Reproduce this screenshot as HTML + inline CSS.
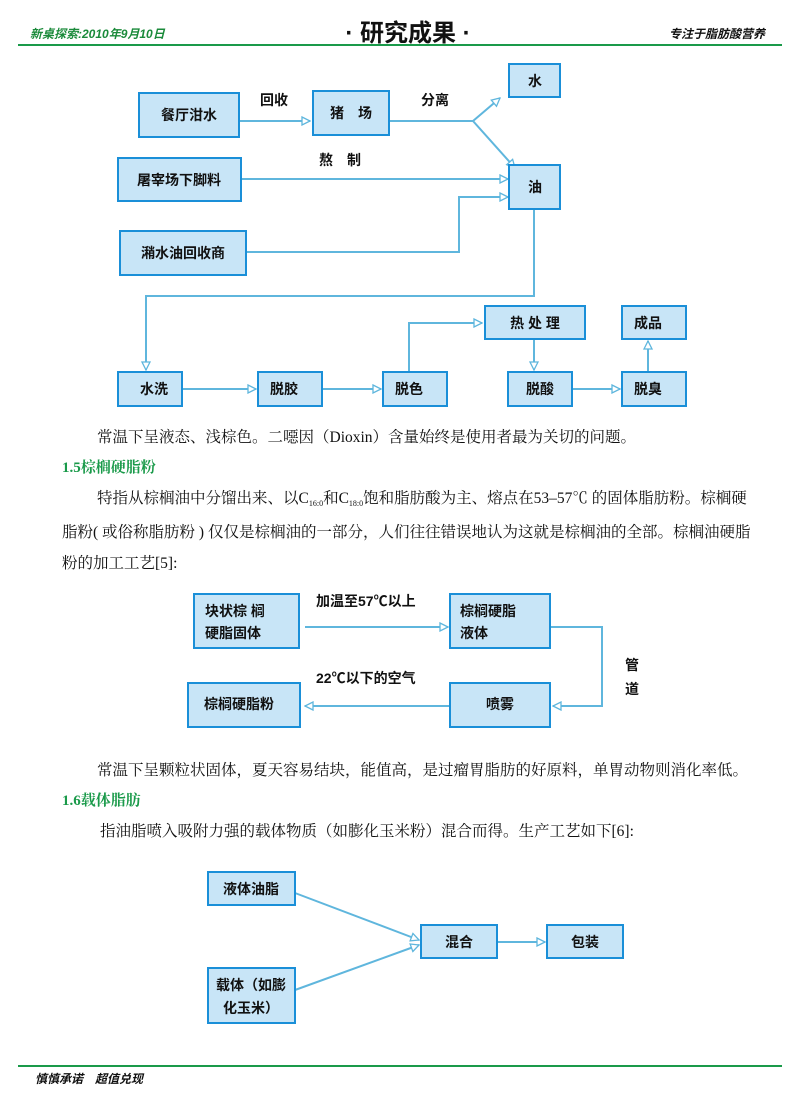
<!DOCTYPE html>
<html><head><meta charset="utf-8"><style>
body{margin:0;background:#fff;}
svg{display:block;}
text{font-family:"Liberation Sans","Noto Sans CJK SC",sans-serif;}
.b{fill:#c8e5f7;stroke:#1a8fd8;stroke-width:2;}
.t{font-size:14px;font-weight:bold;fill:#111;}
.l{stroke:#5fb6dd;stroke-width:2;fill:none;}
.p{font-family:"Liberation Serif","Noto Serif CJK SC",serif;font-size:15.5px;fill:#111;}
.g{font-family:"Liberation Serif","Noto Serif CJK SC",serif;font-size:15px;fill:#1a9a4a;font-weight:bold;}
</style></head><body>
<svg width="800" height="1093" viewBox="0 0 800 1093">
<defs><marker id="a" markerWidth="10" markerHeight="10" refX="9" refY="5" orient="auto" markerUnits="userSpaceOnUse"><path d="M1,1 L9,5 L1,9 Z" fill="#fff" stroke="#5fb6dd" stroke-width="1.3"/></marker></defs>
<text x="30" y="38" style="font-size:12px;font-weight:bold;font-style:italic;fill:#1a8a3a">新桌探索:2010年9月10日</text>
<text x="408" y="41" text-anchor="middle" style="font-size:24px;font-weight:bold;fill:#111">· 研究成果 ·</text>
<text x="765" y="38" text-anchor="end" style="font-size:12px;font-weight:bold;font-style:italic;fill:#111">专注于脂肪酸营养</text>
<line x1="18" y1="45" x2="782" y2="45" stroke="#1a9a4a" stroke-width="2"/>
<path class="l" d="M236,121 H310" marker-end="url(#a)"/>
<path class="l" d="M386,121 H473 L500,98" marker-end="url(#a)"/>
<path class="l" d="M473,121 L515,168" marker-end="url(#a)"/>
<path class="l" d="M241,179 H508" marker-end="url(#a)"/>
<path class="l" d="M246,252 H459 V197 H508" marker-end="url(#a)"/>
<path class="l" d="M534,209 V296 H146 V370" marker-end="url(#a)"/>
<path class="l" d="M182,389 H256" marker-end="url(#a)"/>
<path class="l" d="M322,389 H381" marker-end="url(#a)"/>
<path class="l" d="M409,372 V323 H482" marker-end="url(#a)"/>
<path class="l" d="M534,339 V370" marker-end="url(#a)"/>
<path class="l" d="M572,389 H620" marker-end="url(#a)"/>
<path class="l" d="M648,372 V341" marker-end="url(#a)"/>
<rect class="b" x="139" y="93" width="100" height="44"/><text class="t" x="189" y="120" text-anchor="middle">餐厅泔水</text>
<rect class="b" x="313" y="91" width="76" height="44"/><text class="t" x="351" y="118" text-anchor="middle">猪　场</text>
<rect class="b" x="509" y="64" width="51" height="33"/><text class="t" x="535" y="86" text-anchor="middle">水</text>
<rect class="b" x="118" y="158" width="123" height="43"/><text class="t" x="179" y="185" text-anchor="middle">屠宰场下脚料</text>
<rect class="b" x="509" y="165" width="51" height="44"/><text class="t" x="535" y="192" text-anchor="middle">油</text>
<rect class="b" x="120" y="231" width="126" height="44"/><text class="t" x="183" y="258" text-anchor="middle">潲水油回收商</text>
<text class="t" x="274" y="105" text-anchor="middle">回收</text>
<text class="t" x="435" y="105" text-anchor="middle">分离</text>
<text class="t" x="340" y="165" text-anchor="middle">熬　制</text>
<rect class="b" x="118" y="372" width="64" height="34"/><text class="t" x="140" y="394">水洗</text>
<rect class="b" x="258" y="372" width="64" height="34"/><text class="t" x="270" y="394">脱胶</text>
<rect class="b" x="383" y="372" width="64" height="34"/><text class="t" x="395" y="394">脱色</text>
<rect class="b" x="508" y="372" width="64" height="34"/><text class="t" x="540" y="394" text-anchor="middle">脱酸</text>
<rect class="b" x="622" y="372" width="64" height="34"/><text class="t" x="634" y="394">脱臭</text>
<rect class="b" x="485" y="306" width="100" height="33"/><text class="t" x="535" y="328" text-anchor="middle">热 处 理</text>
<rect class="b" x="622" y="306" width="64" height="33"/><text class="t" x="634" y="328">成品</text>
<text class="p" x="97" y="442">常温下呈液态、浅棕色。二噁因（Dioxin）含量始终是使用者最为关切的问题。</text>
<text class="g" x="62" y="472">1.5棕榈硬脂粉</text>
<text class="p" x="97" y="503">特指从棕榈油中分馏出来、以C<tspan font-size="8" dy="3">16:0</tspan><tspan dy="-3">和C</tspan><tspan font-size="8" dy="3">18:0</tspan><tspan dy="-3">饱和脂肪酸为主、熔点在53–57℃ 的固体脂肪粉。棕榈硬</tspan></text>
<text class="p" x="62" y="537">脂粉( 或俗称脂肪粉 ) 仅仅是棕榈油的一部分，人们往往错误地认为这就是棕榈油的全部。棕榈油硬脂</text>
<text class="p" x="62" y="568">粉的加工工艺[5]:</text>
<path class="l" d="M305,627 H448" marker-end="url(#a)"/>
<path class="l" d="M550,627 H602 V706 H553" marker-end="url(#a)"/>
<path class="l" d="M450,706 H305" marker-end="url(#a)"/>
<rect class="b" x="194" y="594" width="105" height="54"/><text class="t" x="205" y="616">块状棕 榈</text><text class="t" x="205" y="638">硬脂固体</text>
<rect class="b" x="450" y="594" width="100" height="54"/><text class="t" x="460" y="616">棕榈硬脂</text><text class="t" x="460" y="638">液体</text>
<rect class="b" x="450" y="683" width="100" height="44"/><text class="t" x="500" y="709" text-anchor="middle">喷雾</text>
<rect class="b" x="188" y="683" width="112" height="44"/><text class="t" x="204" y="709">棕榈硬脂粉</text>
<text class="t" x="316" y="606">加温至57℃以上</text>
<text class="t" x="316" y="683">22℃以下的空气</text>
<text class="t" x="625" y="670">管</text><text class="t" x="625" y="694">道</text>
<text class="p" x="97" y="775">常温下呈颗粒状固体，夏天容易结块，能值高，是过瘤胃脂肪的好原料，单胃动物则消化率低。</text>
<text class="g" x="62" y="805">1.6载体脂肪</text>
<text class="p" x="100" y="836">指油脂喷入吸附力强的载体物质（如膨化玉米粉）混合而得。生产工艺如下[6]:</text>
<path class="l" d="M295,893 L419,940" marker-end="url(#a)"/>
<path class="l" d="M295,990 L419,945" marker-end="url(#a)"/>
<path class="l" d="M497,942 H545" marker-end="url(#a)"/>
<rect class="b" x="208" y="872" width="87" height="33"/><text class="t" x="251" y="894" text-anchor="middle">液体油脂</text>
<rect class="b" x="208" y="968" width="87" height="55"/><text class="t" x="251" y="990" text-anchor="middle">载体（如膨</text><text class="t" x="251" y="1013" text-anchor="middle">化玉米）</text>
<rect class="b" x="421" y="925" width="76" height="33"/><text class="t" x="459" y="947" text-anchor="middle">混合</text>
<rect class="b" x="547" y="925" width="76" height="33"/><text class="t" x="585" y="947" text-anchor="middle">包装</text>
<line x1="18" y1="1066" x2="782" y2="1066" stroke="#1a9a4a" stroke-width="2"/>
<text x="35" y="1083" style="font-size:12px;font-weight:bold;font-style:italic;fill:#111">慎慎承诺　超值兑现</text>
</svg>
</body></html>
